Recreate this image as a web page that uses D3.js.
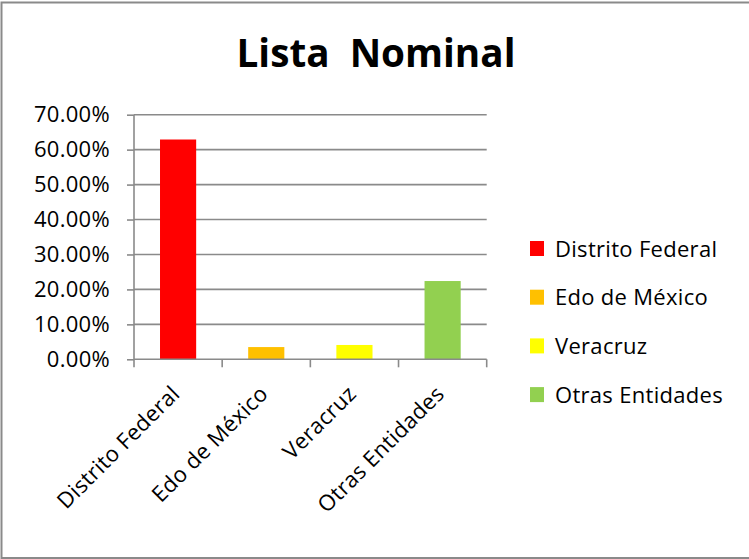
<!DOCTYPE html>
<html><head><meta charset="utf-8">
<script src="https://cdn.jsdelivr.net/npm/d3@7"></script>
<style>
html,body{margin:0;padding:0;background:#fff;}
svg{display:block;font-family:"Open Sans", sans-serif;}
</style></head>
<body>
<svg id="chart" width="749" height="559"></svg>
<script>
const title = "Lista  Nominal";
const categories = ["Distrito Federal", "Edo de México", "Veracruz", "Otras Entidades"];
const values = [62.9, 3.5, 4.1, 22.4];
const colors = ["#FF0000", "#FFC000", "#FFFF00", "#92D050"];
const yTicks = [0, 10, 20, 30, 40, 50, 60, 70];

const svg = d3.select("#chart");
svg.append("rect").attr("x", 1.5).attr("y", 2.5).attr("width", 760).attr("height", 555.5)
  .attr("fill", "#fff").attr("stroke", "#8a8a8a").attr("stroke-width", 2);

const m = {left: 134, right: 486.7, top: 114.7, bottom: 359.3};
const x = d3.scaleBand().domain(categories).range([m.left, m.right]).padding(0);
const y = d3.scaleLinear().domain([0, 70]).range([m.bottom, m.top]);
const gridColor = "#8a8a8a";
const fs = 22;
const ls = 0.3;

// gridlines
svg.append("g").selectAll("line").data(yTicks.filter(d => d > 0)).join("line")
  .attr("x1", m.left).attr("x2", m.right)
  .attr("y1", d => y(d)).attr("y2", d => y(d))
  .attr("stroke", gridColor).attr("stroke-width", 1.6);

// bars
const bw = x.bandwidth() * 0.41;
svg.append("g").selectAll("rect").data(categories).join("rect")
  .attr("x", d => x(d) + x.bandwidth() / 2 - bw / 2)
  .attr("width", bw)
  .attr("y", (d, i) => y(values[i]))
  .attr("height", (d, i) => y(0) - y(values[i]))
  .attr("fill", (d, i) => colors[i]);

// y axis
const yAxis = svg.append("g").attr("transform", `translate(${m.left},0)`)
  .call(d3.axisLeft(y).tickValues(yTicks).tickFormat(d => d.toFixed(2) + "%").tickSize(7).tickPadding(17));
yAxis.select(".domain").attr("stroke", gridColor).attr("stroke-width", 1.6).attr("d", `M0,${m.top}V${m.bottom}`);
yAxis.selectAll(".tick line").attr("stroke", gridColor).attr("stroke-width", 1.6);
yAxis.selectAll(".tick text").attr("font-size", fs).attr("fill", "#000")
  .attr("font-family", "'Open Sans', sans-serif").attr("letter-spacing", ls);

// x axis baseline and ticks at band boundaries
svg.append("line").attr("x1", m.left).attr("x2", m.right).attr("y1", y(0)).attr("y2", y(0))
  .attr("stroke", gridColor).attr("stroke-width", 1.6);
const bounds = categories.map(c => x(c)).concat([x(categories[categories.length - 1]) + x.bandwidth()]);
svg.append("g").selectAll("line").data(bounds).join("line")
  .attr("x1", d => d).attr("x2", d => d).attr("y1", y(0)).attr("y2", y(0) + 8)
  .attr("stroke", gridColor).attr("stroke-width", 1.6);

// x labels
svg.append("g").selectAll("text").data(categories).join("text")
  .attr("transform", d => `translate(${x(d) + x.bandwidth() / 2 + 3},${y(0) + 36}) rotate(-45)`)
  .attr("text-anchor", "end").attr("font-size", fs).attr("letter-spacing", ls).attr("fill", "#000")
  .text(d => d);

// title
const t = svg.append("text").attr("x", 376).attr("y", 67).attr("text-anchor", "middle")
  .attr("font-size", 40).attr("font-weight", "bold").attr("fill", "#000")
  .style("white-space", "pre").attr("xml:space", "preserve").text(title);
const tw = t.node().getComputedTextLength();
t.attr("font-size", 40 * 279 / tw);

// legend
const lg = svg.append("g");
categories.forEach((c, i) => {
  const yy = 241 + i * 48.7;
  lg.append("rect").attr("x", 530).attr("y", yy).attr("width", 14).attr("height", 15).attr("fill", colors[i]);
  lg.append("text").attr("x", 555).attr("y", yy + 15.5).attr("font-size", fs).attr("letter-spacing", ls)
    .attr("fill", "#000").text(c);
});
</script>
</body></html>
